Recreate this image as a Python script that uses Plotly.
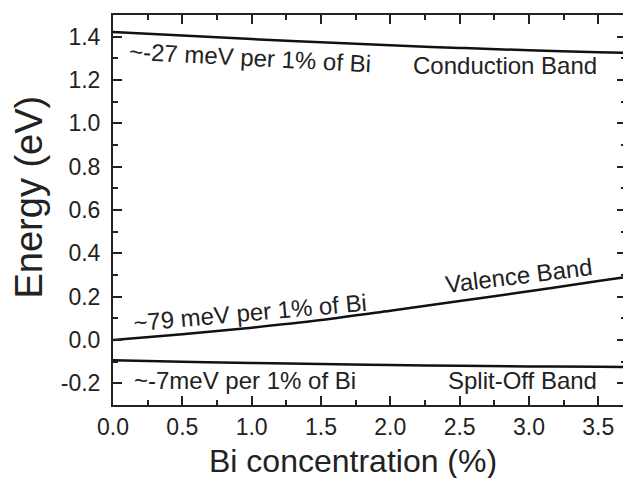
import plotly.graph_objects as go

bi_conc = [0.0, 0.5, 1.0, 1.5, 2.0, 2.5, 3.0, 3.5, 3.7]
conduction = [1.422, 1.405, 1.389, 1.374, 1.360, 1.348, 1.337, 1.328, 1.325]
valence = [0.0, 0.027, 0.057, 0.092, 0.135, 0.180, 0.225, 0.272, 0.290]
split_off = [-0.094, -0.100, -0.106, -0.111, -0.115, -0.119, -0.122, -0.124, -0.125]

x_ticks = [0.0, 0.5, 1.0, 1.5, 2.0, 2.5, 3.0, 3.5]
y_ticks = [-0.2, 0.0, 0.2, 0.4, 0.6, 0.8, 1.0, 1.2, 1.4]

x_title = "Bi concentration (%)"
y_title = "Energy (eV)"

labels = [
    ("~-27 meV per 1% of Bi", 0.99, 1.303, 3),
    ("Conduction Band", 2.83, 1.266, 0),
    ("~79 meV per 1% of Bi", 0.985, 0.125, -5),
    ("Valence Band", 2.93, 0.297, -7),
    ("~-7meV per 1% of Bi", 0.95, -0.186, 0),
    ("Split-Off Band", 2.95, -0.186, 0),
]

FONT = "Arial, Liberation Sans, Helvetica, sans-serif"
INK = "#222222"

fig = go.Figure()
for ys in (conduction, valence, split_off):
    fig.add_trace(go.Scatter(x=bi_conc, y=ys, mode="lines",
                             line=dict(color="#111111", width=2.5, shape="spline"),
                             showlegend=False, hoverinfo="skip"))

for text, x, y, ang in labels:
    fig.add_annotation(x=x, y=y, text=text, showarrow=False, textangle=ang,
                       font=dict(family=FONT, size=24, color=INK))

# axis titles (placed slightly off-centre as in the reference)
fig.add_annotation(xref="paper", yref="paper", x=0.468, y=-0.1436, text=x_title,
                   showarrow=False, xanchor="center", yanchor="middle",
                   font=dict(family=FONT, size=32, color=INK))
fig.add_annotation(xref="paper", yref="paper", x=-0.163, y=0.533, text=y_title,
                   showarrow=False, xanchor="center", yanchor="middle", textangle=-90,
                   font=dict(family=FONT, size=38, color=INK))

axis_common = dict(showline=True, linecolor=INK, linewidth=2, mirror="ticks",
                   ticks="inside", ticklen=9, tickwidth=2, tickcolor=INK,
                   showgrid=False, zeroline=False,
                   tickfont=dict(family=FONT, size=23, color=INK))

fig.update_xaxes(range=[0, 3.7], tickvals=x_ticks,
                 ticktext=[f"{v:.1f}" for v in x_ticks],
                 ticklabelstandoff=0,
                 minor=dict(dtick=0.25, tick0=0, ticks="inside", ticklen=5,
                            tickwidth=1.5, tickcolor=INK),
                 **axis_common)
fig.update_yaxes(range=[-0.3, 1.5], tickvals=y_ticks,
                 ticktext=[f"{v:.1f}" for v in y_ticks],
                 ticklabelstandoff=6,
                 minor=dict(dtick=0.1, tick0=0, ticks="inside", ticklen=5,
                            tickwidth=1.5, tickcolor=INK),
                 **axis_common)

fig.update_layout(width=623, height=470, margin=dict(l=105, r=3, t=7, b=73),
                  plot_bgcolor="white", paper_bgcolor="white")

fig.write_html("out.html")
